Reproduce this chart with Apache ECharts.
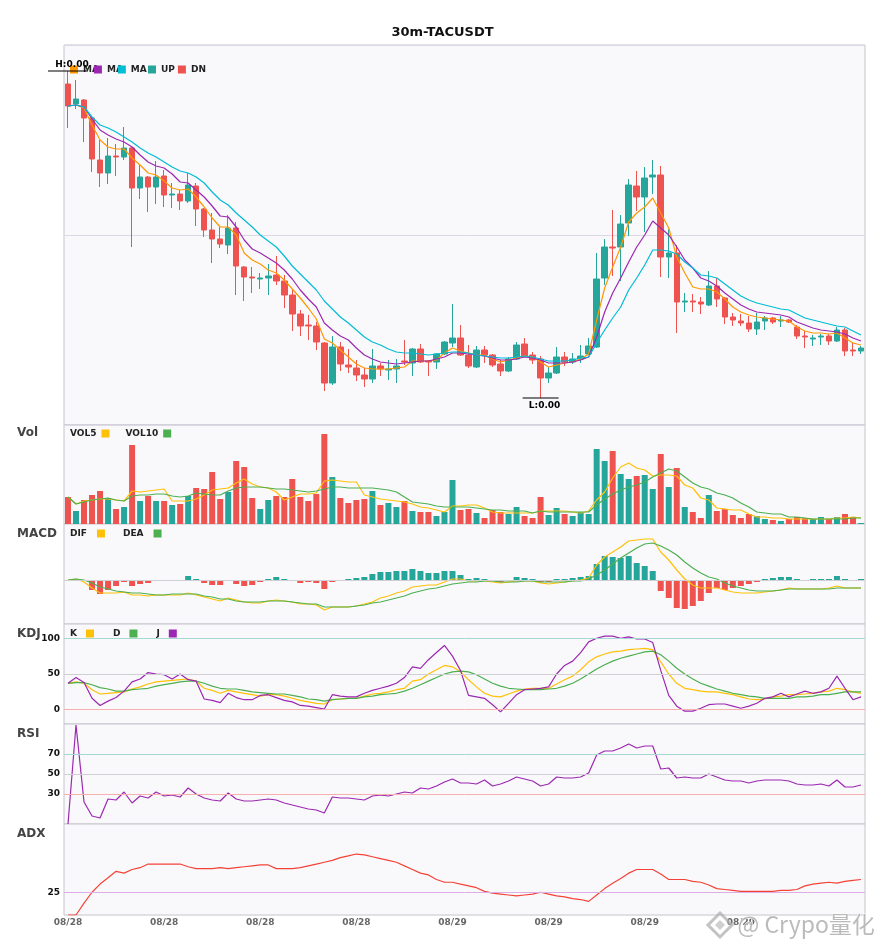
<!DOCTYPE html>
<html><head><meta charset="utf-8">
<script src="https://cdn.jsdelivr.net/npm/echarts@6/dist/echarts.min.js"></script>
<style>html,body{margin:0;padding:0;background:#fff}#c{width:885px;height:950px}</style>
</head><body><div id="c"></div>
<script>
// ---- price data (units: 1e-6 USDT), 100 x 30m candles ----
const openP = [3605,3505,3525,3435,3225,3160,3245,3240,3285,3085,
3140,3090,3145,3050,3055,3020,3095,2980,2875,2830,
2800,2885,2690,2640,2630,2635,2650,2620,2550,2455,
2400,2395,2310,2110,2290,2200,2185,2150,2130,2195,
2175,2180,2220,2210,2280,2220,2215,2255,2310,2335,
2250,2190,2275,2250,2205,2170,2230,2305,2250,2230,
2135,2160,2240,2215,2230,2255,2290,2635,2790,2790,
2910,3095,3040,3140,3150,2740,2760,2515,2520,2515,
2500,2595,2535,2440,2420,2410,2380,2420,2435,2420,
2425,2390,2345,2330,2340,2345,2320,2375,2275,2270];
const closeP = [3495,3530,3435,3230,3160,3245,3240,3285,3085,3140,
3090,3140,3050,3055,3020,3100,2980,2875,2830,2805,
2885,2695,2640,2635,2635,2645,2620,2550,2455,2395,
2395,2315,2110,2290,2205,2190,2150,2130,2195,2180,
2180,2195,2215,2280,2215,2215,2255,2315,2335,2250,
2195,2275,2250,2200,2170,2230,2300,2245,2225,2135,
2160,2240,2215,2230,2245,2295,2630,2790,2785,2905,
3100,3040,3135,3150,2740,2760,2515,2520,2515,2505,
2595,2530,2440,2425,2410,2380,2415,2435,2415,2425,
2415,2345,2340,2335,2345,2320,2375,2270,2270,2285];
const lowP = [3385,3480,3315,3165,3090,3105,3145,3225,2790,3030,
2965,3005,2990,2985,2975,3010,2895,2840,2710,2785,
2755,2550,2520,2560,2580,2550,2600,2485,2370,2345,
2325,2275,2070,2100,2170,2160,2120,2090,2110,2145,
2125,2110,2200,2145,2210,2145,2180,2250,2290,2245,
2185,2185,2210,2190,2145,2165,2225,2240,2205,2035,
2110,2155,2195,2205,2210,2250,2285,2600,2645,2620,
2845,2970,2865,3055,2640,2635,2360,2465,2465,2455,
2495,2490,2405,2395,2395,2365,2350,2375,2405,2390,
2410,2330,2285,2295,2300,2300,2315,2245,2245,2255];
const highP = [3670,3625,3530,3440,3325,3335,3305,3390,3295,3200,
3145,3220,3175,3110,3075,3160,3110,2985,2960,2895,
2950,2915,2695,2690,2660,2705,2745,2650,2575,2475,
2450,2415,2315,2345,2315,2280,2225,2185,2280,2210,
2225,2230,2325,2285,2305,2225,2260,2320,2505,2400,
2300,2295,2295,2255,2225,2240,2315,2335,2265,2245,
2190,2290,2265,2260,2300,2335,2760,2830,2975,2950,
3130,3170,3190,3225,3195,2880,2800,2560,2555,2540,
2670,2635,2540,2460,2455,2445,2460,2445,2440,2445,
2430,2400,2370,2350,2355,2355,2390,2385,2315,2295];
const ma5 = [3495,3500,3485,3400,3325,3290,3280,3280,3235,3200,
3160,3150,3120,3085,3075,3080,3040,2990,2935,2890,
2890,2850,2760,2725,2705,2675,2660,2625,2580,2535,
2485,2430,2330,2310,2275,2240,2205,2185,2180,2180,
2180,2185,2190,2220,2220,2220,2225,2260,2285,2270,
2260,2250,2250,2230,2215,2225,2235,2245,2240,2215,
2190,2200,2210,2215,2230,2255,2425,2585,2690,2790,
2915,2960,2990,3035,2960,2885,2740,2660,2590,2580,
2580,2565,2530,2490,2465,2450,2440,2435,2430,2425,
2420,2390,2370,2360,2360,2355,2360,2335,2310,2300];
const ma10 = [3495,3500,3490,3430,3375,3350,3330,3315,3290,3250,
3215,3195,3185,3155,3115,3110,3075,3040,2995,2945,
2940,2890,2825,2780,2760,2735,2710,2675,2630,2575,
2530,2490,2410,2375,2345,2325,2285,2250,2230,2215,
2210,2205,2210,2215,2220,2220,2230,2240,2260,2260,
2255,2250,2245,2235,2225,2225,2230,2240,2235,2225,
2210,2210,2210,2215,2225,2240,2340,2465,2560,2635,
2715,2790,2850,2920,2885,2850,2790,2725,2685,2635,
2620,2595,2560,2530,2500,2480,2465,2460,2455,2450,
2440,2415,2400,2385,2375,2370,2365,2355,2335,2320];
const ma20 = [3495,3500,3490,3440,3400,3385,3365,3340,3315,3285,
3260,3240,3215,3190,3170,3160,3140,3110,3065,3025,
3000,2960,2925,2890,2850,2820,2790,2745,2695,2655,
2615,2575,2520,2480,2440,2410,2375,2340,2315,2300,
2280,2265,2260,2260,2255,2250,2255,2260,2265,2265,
2260,2250,2245,2240,2235,2235,2240,2245,2240,2230,
2220,2220,2220,2225,2235,2240,2310,2375,2435,2490,
2575,2635,2700,2775,2775,2770,2755,2715,2685,2650,
2645,2635,2605,2575,2545,2525,2510,2500,2490,2480,
2475,2455,2435,2425,2415,2405,2395,2390,2370,2350];
// ---- volume ----
const vol = [27,13,24,29,33,26,15,17,79,23, 28,23,23,19,20,28,36,35,52,25,
32,63,57,26,15,24,28,27,45,27, 23,30,90,47,26,21,24,25,33,19,
21,17,23,13,12,12,8,12,44,14, 15,11,6,14,12,10,17,8,6,27,
9,16,10,8,12,10,75,63,73,50, 45,48,49,35,70,37,56,17,12,6,
29,13,15,9,6,10,8,5,4,3, 5,7,6,5,7,5,7,10,7,1];
const vol5 = [27,20,23,24,25,25,24,23,33,32, 33,34,35,23,23,23,25,29,34,35,
36,41,45,40,37,36,32,24,27,30, 30,31,43,44,43,42,42,29,27,25,
24,23,22,20,17,16,14,12,18,18, 19,19,16,12,11,11,11,11,11,13,
13,13,13,12,11,13,24,32,46,57, 61,56,54,48,49,49,48,39,36,26,
24,16,15,14,14,10,7,7,6,6, 5,5,5,5,5,5,6,6,7,6];
const vol10 = [27,20,22,24,25,26,24,23,28,29, 29,30,30,28,27,28,31,30,29,29,
33,36,37,37,37,36,35,35,34,33, 32,33,35,37,37,36,36,36,36,35,
34,32,27,22,21,20,18,17,17,17, 17,16,15,14,14,13,13,13,11,13,
12,12,12,12,12,12,19,25,30,34, 37,39,42,47,51,55,53,47,41,37,
35,31,29,26,21,17,12,11,10,10, 7,7,6,5,5,5,5,5,6,6];
// ---- MACD ----
const macdHist = [0,0,0,-10,-14,-10,-6,-2,-6,-4, -3,0,-1,0,0,4,1,-3,-5,-5,
0,-4,-6,-5,-2,1,3,1,-1,-3, -2,-3,-9,-2,0,1,2,3,6,8,
8,9,9,11,9,7,7,9,9,5, 1,2,1,-1,-2,0,3,2,1,-2,
-2,1,1,2,3,4,16,24,23,22, 24,17,14,9,-11,-18,-28,-29,-26,-21,
-13,-8,-10,-8,-6,-4,-2,1,2,3, 3,1,0,1,1,1,4,1,0,1];
const dif = [0,1,-2,-8,-13,-13,-13,-12,-15,-15, -16,-15,-15,-15,-15,-13,-15,-17,-19,-21,
-18,-20,-22,-23,-23,-21,-20,-21,-22,-24, -24,-25,-30,-27,-27,-27,-26,-24,-22,-18,
-16,-13,-11,-7,-6,-5,-5,-2,1,1, -1,-1,-1,-2,-3,-2,-1,-1,-1,-3,
-4,-3,-2,-1,0,2,15,23,28,33, 39,40,41,41,28,20,10,1,-5,-8,
-8,-8,-10,-12,-13,-13,-13,-12,-11,-10, -8,-9,-9,-9,-9,-8,-6,-8,-8,-8];
const dea = [0,1,0,-3,-7,-9,-11,-12,-13,-13, -14,-15,-15,-14,-14,-14,-14,-16,-17,-19,
-19,-21,-22,-22,-22,-21,-21,-21,-22,-23, -24,-24,-27,-27,-27,-27,-26,-25,-23,-22,
-20,-18,-16,-13,-11,-9,-8,-6,-4,-3, -2,-2,-1,-1,-2,-2,-2,-1,-1,-2,
-2,-2,-2,-1,-1,1,5,10,16,22, 27,32,36,37,34,30,25,18,12,7,
3,1,-3,-6,-8,-10,-11,-11,-11,-10, -9,-9,-9,-9,-9,-9,-8,-8,-8,-8];
// ---- KDJ ----
const kLine = [37,39,37,28,22,23,24,25,29,32, 36,39,40,41,42,43,40,30,27,23,
27,25,23,21,19,21,21,19,16,13, 11,9,8,14,15,16,16,19,22,23,
25,28,30,40,42,50,56,62,60,53, 42,32,23,19,18,22,26,29,30,30,
30,36,42,47,56,67,74,78,81,82, 84,85,86,84,67,50,37,30,28,26,
25,25,23,21,18,15,14,15,18,19, 21,21,22,23,25,26,30,28,25,23];
const dLine = [37,38,38,35,31,29,26,26,28,29, 30,33,35,37,39,40,40,37,33,30,
29,29,27,25,24,23,22,22,20,18, 15,14,12,14,15,16,16,18,19,21,
22,23,26,30,35,40,45,50,53,54, 53,49,43,37,33,30,29,28,28,28,
29,30,33,37,43,50,57,63,68,72, 75,78,81,82,77,68,58,50,43,37,
33,29,26,23,21,19,18,16,16,16, 16,18,18,19,21,21,23,25,25,25];
const jLine = [37,45,38,16,6,12,17,26,39,43, 52,50,49,43,50,42,40,15,13,10,
23,17,14,14,20,21,17,13,11,6, 5,3,1,21,19,18,18,23,27,30,
33,37,45,60,58,70,80,90,75,55, 20,18,16,7,-3,9,21,28,29,30,
32,50,62,68,80,95,100,103,103,100, 102,99,99,94,55,20,5,-2,-2,2,
7,8,8,5,2,5,9,16,18,23, 18,22,26,23,25,30,47,30,14,18];
// ---- RSI / ADX ----
const rsi = [0,99,22,8,6,25,24,32,21,28, 26,32,28,29,27,36,30,26,24,23,
31,25,23,23,24,25,24,21,19,17, 15,14,11,27,26,26,25,24,28,29,
28,30,32,31,36,35,38,42,45,41, 41,40,44,38,40,43,47,45,43,38,
40,47,46,46,47,51,69,73,73,76, 80,76,78,78,55,56,46,47,46,46,
50,47,44,43,43,41,43,44,44,44, 43,40,39,39,40,38,44,37,37,39];
const adx = [0,0,13,25,34,41,48,46,50,52, 56,56,56,56,56,53,51,51,51,52,
51,52,53,54,55,55,51,51,51,52, 54,56,58,60,63,65,67,66,64,62,
60,58,54,50,46,44,39,36,36,34, 32,30,26,24,23,22,21,22,23,25,
23,21,20,18,17,15,22,29,35,40, 46,50,50,50,45,39,39,39,37,36,
33,29,28,27,26,26,26,26,26,27, 27,28,32,34,35,36,35,37,38,39];
// ---- categories: 30-minute bars starting 2025-08-28 00:00 UTC ----
const times = [];
for (let i = 0; i < openP.length; i++) {
  const d = new Date(Date.UTC(2025, 7, 28, 0, 30 * i));
  const p = n => String(n).padStart(2, '0');
  times.push(p(d.getUTCMonth() + 1) + '/' + p(d.getUTCDate()) + ' ' + p(d.getUTCHours()) + ':' + p(d.getUTCMinutes()));
}
const kdjMarks = [100, 50, 0];
const rsiMarks = [70, 50, 30];
const adxMarks = [25];

const FONT = 'DejaVu Sans';
const UPC = '#26a69a', DNC = '#ef5350';
const C_MA5 = '#ff9800', C_MA10 = '#9c27b0', C_MA20 = '#00bcd4';
const C_Y = '#ffc107', C_G = '#4caf50', C_P = '#9c27b0';

const candles = openP.map((o, i) => [o, closeP[i], lowP[i], highP[i]]);
const isUp = i => closeP[i] >= openP[i];

const chart = echarts.init(document.getElementById('c'), null, { renderer: 'canvas' });

const GL = 64, GR = 20;
const gridDefs = [[45, 380], [425, 99], [524, 100], [624, 100], [724, 100], [824, 91]];
const grid = gridDefs.map(g => ({
  left: GL, right: GR, top: g[0], height: g[1], show: true,
  backgroundColor: '#f9f9fc', borderColor: '#c4c4cc', borderWidth: 1
}));

const xAxis = gridDefs.map((g, k) => ({
  type: 'category', gridIndex: k, data: times, boundaryGap: true,
  axisLine: { show: false }, axisTick: { show: false }, splitLine: { show: false },
  axisLabel: k === 5 ? {
    show: true, interval: 11, showMaxLabel: false, margin: 3,
    formatter: v => v.slice(0, 5), color: '#666', fontSize: 9, fontWeight: 'bold', fontFamily: FONT
  } : { show: false }
}));

const yLbl = (list) => ({
  show: true, fontSize: 9, fontWeight: 'bold', color: '#111', fontFamily: FONT, margin: 4,
  formatter: v => (list.indexOf(v) >= 0 ? String(v) : '')
});
const yBase = { axisLine: { show: false }, axisTick: { show: false } };
const yAxis = [
  Object.assign({ gridIndex: 0, min: 1900, max: 3800, interval: 950, axisLabel: { show: false },
    splitLine: { show: true, lineStyle: { color: '#dcd8e6' } } }, yBase),
  Object.assign({ gridIndex: 1, min: 0, max: 99, axisLabel: { show: false }, splitLine: { show: false } }, yBase),
  Object.assign({ gridIndex: 2, min: -44, max: 56, axisLabel: { show: false }, splitLine: { show: false } }, yBase),
  Object.assign({ gridIndex: 3, min: -20, max: 120, interval: 10, axisLabel: yLbl(kdjMarks), splitLine: { show: false } }, yBase),
  Object.assign({ gridIndex: 4, min: 0, max: 100, interval: 10, axisLabel: yLbl(rsiMarks), splitLine: { show: false } }, yBase),
  Object.assign({ gridIndex: 5, min: 0, max: 100, interval: 5, axisLabel: yLbl(adxMarks), splitLine: { show: false } }, yBase)
];

const line = (name, data, color, k) => ({
  name, type: 'line', data, xAxisIndex: k, yAxisIndex: k, symbol: 'none', showSymbol: false,
  lineStyle: { width: 1.2, color }, itemStyle: { color }, animation: false, z: 3
});
const hLines = (vals, colors) => ({
  silent: true, symbol: ['none', 'none'], label: { show: false },
  data: vals.map((v, i) => ({ yAxis: v, lineStyle: { color: colors[i], width: 1, type: 'solid' } }))
});

const markLbl = { fontFamily: FONT, fontSize: 9, fontWeight: 'bold', color: '#000' };

const series = [
  {
    name: 'Candle', type: 'candlestick', data: candles, xAxisIndex: 0, yAxisIndex: 0, barWidth: 6,
    itemStyle: { color: UPC, color0: DNC, borderColor: UPC, borderColor0: DNC, borderWidth: 1 },
    markPoint: {
      symbol: 'rect', itemStyle: { color: '#000' }, animation: false,
      data: [
        { type: 'max', valueDim: 'highest', symbolSize: [40, 1],
          label: Object.assign({ position: 'top', distance: 1, offset: [4, 0],
            formatter: p => 'H:' + (p.value / 1e6).toFixed(2) }, markLbl) },
        { type: 'min', valueDim: 'lowest', symbolSize: [36, 1],
          label: Object.assign({ position: 'bottom', distance: 3, offset: [4, 0],
            formatter: p => 'L:' + (p.value / 1e6).toFixed(2) }, markLbl) }
      ]
    }
  },
  line('MA5', ma5, C_MA5, 0),
  line('MA10', ma10, C_MA10, 0),
  line('MA20', ma20, C_MA20, 0),
  { name: 'UP', type: 'line', data: [], xAxisIndex: 0, yAxisIndex: 0, itemStyle: { color: UPC }, lineStyle: { color: UPC } },
  { name: 'DN', type: 'line', data: [], xAxisIndex: 0, yAxisIndex: 0, itemStyle: { color: DNC }, lineStyle: { color: DNC } },
  {
    name: 'VOL', type: 'bar', xAxisIndex: 1, yAxisIndex: 1, barWidth: 6,
    data: vol.map((v, i) => ({ value: v, itemStyle: { color: isUp(i) ? UPC : DNC } }))
  },
  line('VOL5', vol5, C_Y, 1),
  line('VOL10', vol10, C_G, 1),
  {
    name: 'MACD', type: 'bar', xAxisIndex: 2, yAxisIndex: 2, barWidth: 6,
    data: macdHist.map(v => ({ value: v, itemStyle: { color: v >= 0 ? UPC : DNC } })),
    markLine: hLines([0], ['#cfcfd4'])
  },
  line('DIF', dif, C_Y, 2),
  line('DEA', dea, C_G, 2),
  Object.assign(line('K', kLine, C_Y, 3), { markLine: hLines(kdjMarks, ['#a3d9d2', '#cfcfd4', '#f6b0b0']) }),
  line('D', dLine, C_G, 3),
  line('J', jLine, C_P, 3),
  Object.assign(line('RSI', rsi, C_P, 4), { markLine: hLines(rsiMarks, ['#a3d9d2', '#cfcfd4', '#f6b0b0']) }),
  Object.assign(line('ADX', adx, '#f44336', 5), { markLine: hLines(adxMarks, ['#dcaee6']) })
];

const legTxt = { fontFamily: FONT, fontSize: 9, fontWeight: 'bold', color: '#222' };
const legend = [
  { left: 70, top: 65, padding: 0, icon: 'rect', itemWidth: 8, itemHeight: 8, itemGap: -5, selectedMode: false,
    textStyle: legTxt, formatter: () => 'MA', data: ['MA5', 'MA10', 'MA20'] },
  { left: 148, top: 65, padding: 0, icon: 'rect', itemWidth: 8, itemHeight: 8, itemGap: 3, selectedMode: false,
    textStyle: legTxt, data: ['UP', 'DN'] },
  { left: 70, top: 429, padding: 0, icon: 'rect', align: 'right', itemWidth: 8, itemHeight: 8, itemGap: 16,
    selectedMode: false, textStyle: legTxt, data: ['VOL5', 'VOL10'] },
  { left: 70, top: 529, padding: 0, icon: 'rect', align: 'right', itemWidth: 8, itemHeight: 8, itemGap: 18,
    selectedMode: false, textStyle: Object.assign({ padding: [0, 5, 0, 0] }, legTxt), data: ['DIF', 'DEA'] },
  { left: 70, top: 629, padding: 0, icon: 'rect', align: 'right', itemWidth: 8, itemHeight: 8, itemGap: 19,
    selectedMode: false, textStyle: Object.assign({ padding: [0, 4, 0, 0] }, legTxt), data: ['K', 'D', 'J'] }
];

const panelTitle = (text, top) => ({
  text, left: 17, top, padding: 0,
  textStyle: { fontFamily: FONT, fontSize: 12, fontWeight: 'bold', color: '#444' }
});
const title = [
  { text: '30m-TACUSDT', left: 'center', top: 26, padding: 0,
    textStyle: { fontFamily: FONT, fontSize: 13, fontWeight: 'bold', color: '#111' } },
  panelTitle('Vol', 427), panelTitle('MACD', 528), panelTitle('KDJ', 628),
  panelTitle('RSI', 728), panelTitle('ADX', 828)
];

chart.setOption({
  backgroundColor: '#fff',
  animation: false,
  title, legend, grid, xAxis, yAxis, series,
  graphic: [
    { type: 'polygon', z: 100, silent: true,
      shape: { points: [[720, 913], [732, 925], [720, 937], [708, 925]] },
      style: { fill: 'none', stroke: 'rgba(175,175,175,0.75)', lineWidth: 3 } },
    { type: 'polygon', z: 100, silent: true,
      shape: { points: [[720, 920], [725, 925], [720, 930], [715, 925]] },
      style: { fill: 'rgba(175,175,175,0.6)' } },
    { type: 'text', left: 737, top: 912, z: 100, silent: true,
      style: { text: '@ Crypo量化', fontSize: 23, fontFamily: 'Noto Sans CJK SC',
        fill: 'rgba(170,170,170,0.8)', stroke: 'rgba(255,255,255,0.9)', lineWidth: 1 } }
  ]
});
</script>
</body></html>
